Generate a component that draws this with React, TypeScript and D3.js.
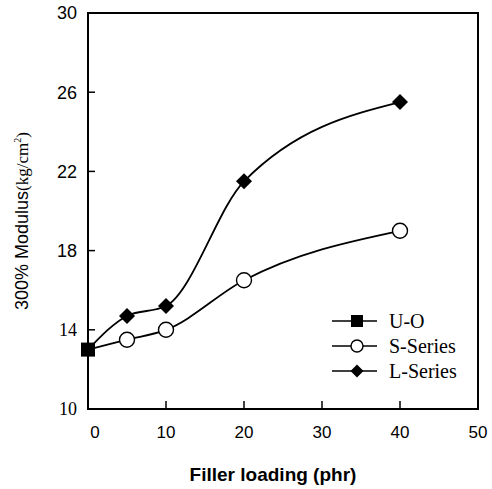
import React from 'react';
import * as d3 from 'd3';

const loading = [0, 5, 10, 20, 40];
const uoValues = [13];
const sSeries = [13, 13.5, 14.0, 16.5, 19.0];
const lSeries = [13, 14.7, 15.2, 21.5, 25.5];
const xTicks = [0, 10, 20, 30, 40, 50];
const yTicks = [10, 14, 18, 22, 26, 30];
const legendNames = ['U-O', 'S-Series', 'L-Series'];

const W = 492, H = 489;
const left = 88, right = 478, top = 13, bottom = 409;

const serif = '"Liberation Serif", "DejaVu Serif", serif';
const sans = '"Liberation Sans", Arial, sans-serif';

const App = () => {
  const x = d3.scaleLinear().domain([0, 50]).range([left, right]);
  const y = d3.scaleLinear().domain([10, 30]).range([bottom, top]);

  const line = d3.line<number>()
    .x((d, i) => x(loading[i]))
    .y(d => y(d))
    .curve(d3.curveMonotoneX);

  const diamond = (cx: number, cy: number, r: number) =>
    `M${cx},${cy - r}L${cx + r},${cy}L${cx},${cy + r}L${cx - r},${cy}Z`;

  const drawMarker = (kind: number, cx: number, cy: number, s: number, key: string) => {
    if (kind === 0) return <rect key={key} x={cx - s} y={cy - s} width={2 * s} height={2 * s} fill="#000" />;
    if (kind === 1) return <circle key={key} cx={cx} cy={cy} r={s} fill="#fff" stroke="#000" strokeWidth={1.4} />;
    return <path key={key} d={diamond(cx, cy, s + 1)} fill="#000" />;
  };

  const legendY = [321, 346, 371];

  return (
    <div style={{ position: 'absolute', left: 0, top: 0 }}>
      <svg width={W} height={H} style={{ display: 'block', background: '#fff' }}>
        {/* frame */}
        <rect x={left} y={top} width={right - left} height={bottom - top} fill="none" stroke="#000" strokeWidth={2} />

        {/* y ticks */}
        {yTicks.map(t => (
          <g key={'y' + t}>
            {t > 10 && t < 30 && <line x1={left} x2={left + 7} y1={y(t)} y2={y(t)} stroke="#000" strokeWidth={1.5} />}
            <text x={77} y={y(t)} dy="0.35em" textAnchor="end" fontFamily={t <= 14 ? serif : sans} fontSize={18}>{t}</text>
          </g>
        ))}

        {/* x ticks */}
        {xTicks.map(t => (
          <g key={'x' + t}>
            {t > 0 && t < 50 && <line x1={x(t)} x2={x(t)} y1={bottom} y2={bottom - 8} stroke="#000" strokeWidth={1.5} />}
            <text x={x(t) + (t === 0 ? 7 : 0)} y={438} textAnchor="middle" fontFamily={sans} fontSize={17}>{t}</text>
          </g>
        ))}

        {/* axis titles */}
        <text transform={`translate(28,221) rotate(-90)`} textAnchor="middle" fontFamily={sans} fontSize={18}>
          300% Modulus<tspan fontFamily={serif} fontSize={17}>(kg/cm<tspan dy="-7" fontSize={10}>2</tspan><tspan dy="7">)</tspan></tspan>
        </text>
        <text x={273} y={481} textAnchor="middle" fontFamily={sans} fontSize={19} fontWeight={600}>Filler loading (phr)</text>

        {/* curves */}
        <path d={line(lSeries) || ''} fill="none" stroke="#000" strokeWidth={1.8} />
        <path d={line(sSeries) || ''} fill="none" stroke="#000" strokeWidth={1.8} />

        {sSeries.slice(1).map((v, i) => drawMarker(1, x(loading[i + 1]), y(v), 7.5, 's' + i))}
        {lSeries.slice(1).map((v, i) => drawMarker(2, x(loading[i + 1]), y(v), 7, 'l' + i))}
        {uoValues.map((v, i) => drawMarker(0, x(loading[i]), y(v), 7, 'u' + i))}

        {/* legend */}
        {legendNames.map((n, i) => (
          <g key={n}>
            <line x1={332} x2={377} y1={legendY[i]} y2={legendY[i]} stroke="#000" strokeWidth={1.5} />
            {drawMarker(i, 357, legendY[i], i === 2 ? 5.5 : 6, 'lg' + i)}
            <text x={389} y={legendY[i]} dy="0.35em" fontFamily={serif} fontSize={20}>{n}</text>
          </g>
        ))}
      </svg>
    </div>
  );
};

export default App;
